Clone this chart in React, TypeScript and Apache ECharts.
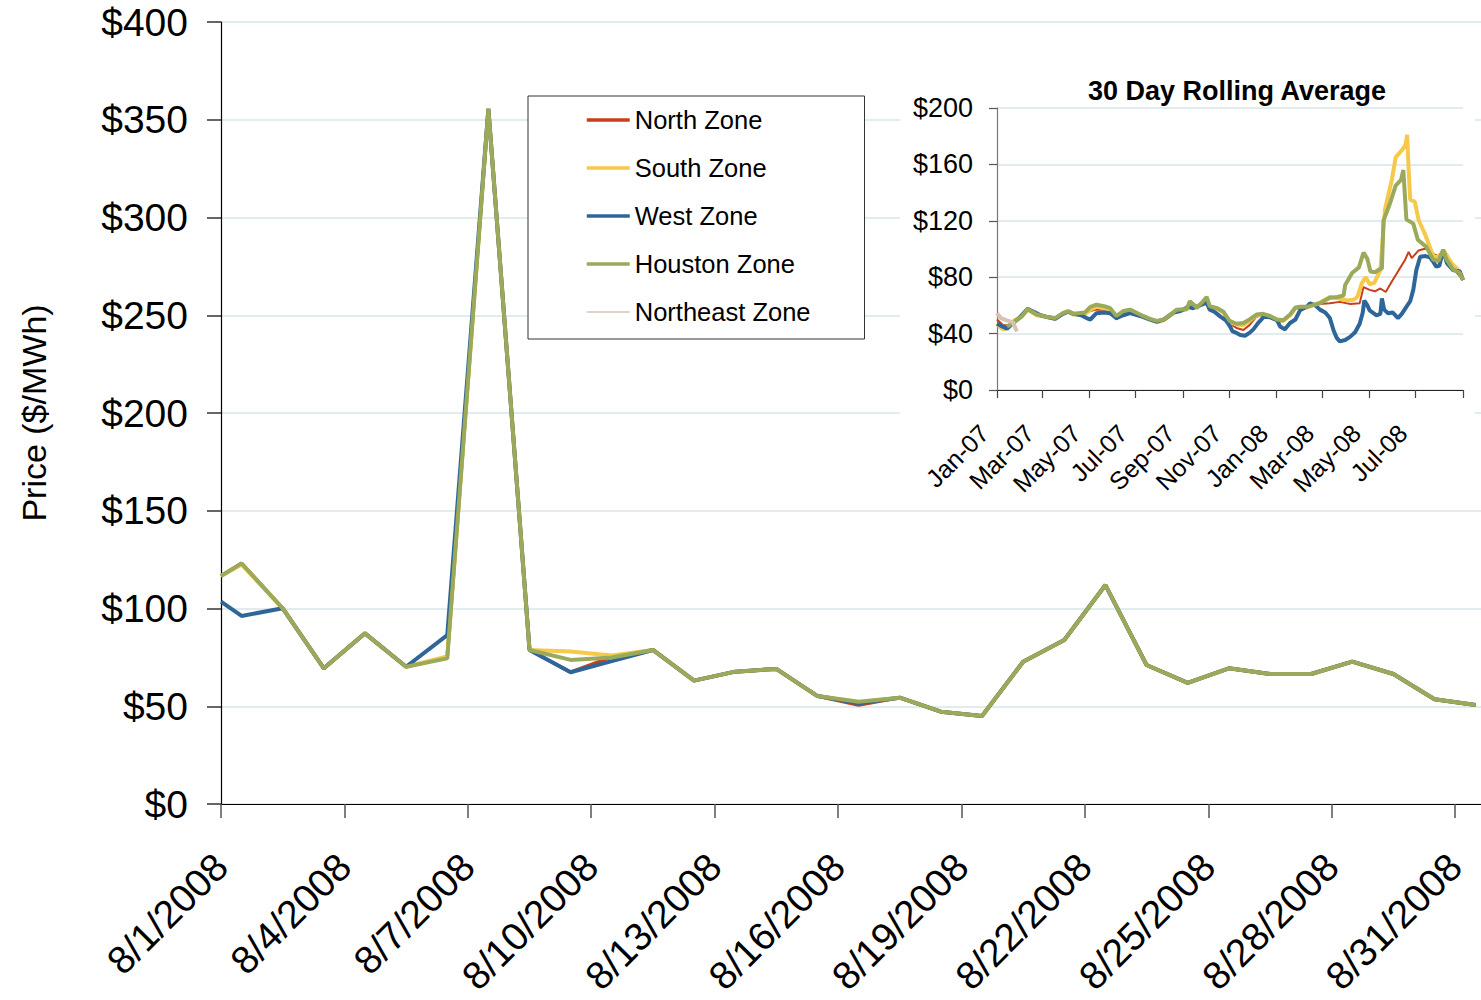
import React, { useEffect, useRef } from 'react';
import * as echarts from 'echarts';

const FONT = '"Liberation Sans", Arial, Helvetica, sans-serif';

// ---------- main chart (August 2008 daily prices) ----------
const mainX = [0, 0.5, 1.5, 2.5, 3.5, 4.5, 5.5, 6.5, 7.5, 8.5, 9.5, 10.5, 11.5, 12.5, 13.5, 14.5, 15.5, 16.5, 17.5, 18.5, 19.5, 20.5, 21.5, 22.5, 23.5, 24.5, 25.5, 26.5, 27.5, 28.5, 29.5, 30.5];
const northMain = [116.6, 123.1, 100.1, 69.4, 87.3, 70.2, 75.0, 355.5, 78.8, 67.4, 75.3, 78.8, 63.1, 67.7, 69.1, 55.2, 50.6, 54.4, 47.2, 45.0, 72.8, 83.9, 112.0, 71.1, 62.0, 69.4, 66.5, 66.5, 72.8, 66.5, 53.6, 50.6];
const southMain = [116.6, 122.5, 100.1, 69.4, 87.3, 70.2, 75.5, 355.5, 78.8, 78.0, 76.0, 78.8, 63.1, 67.7, 69.1, 55.2, 52.0, 54.4, 47.2, 45.0, 72.8, 83.9, 112.0, 71.1, 62.0, 69.4, 66.5, 66.5, 72.8, 66.5, 53.6, 50.6];
const westMain = [103.5, 96.2, 100.1, 69.4, 87.3, 70.2, 86.4, 355.5, 78.8, 67.4, 73.1, 78.8, 63.1, 67.7, 69.1, 55.2, 51.5, 54.4, 47.2, 45.0, 72.8, 83.9, 112.0, 71.1, 62.0, 69.4, 66.5, 66.5, 72.8, 66.5, 53.6, 50.6];
const houstonMain = [116.6, 123.1, 100.1, 69.4, 87.3, 70.2, 74.5, 355.5, 78.8, 73.7, 74.9, 78.8, 63.1, 67.7, 69.1, 55.2, 52.3, 54.4, 47.2, 45.0, 72.8, 83.9, 112.0, 71.1, 62.0, 69.4, 66.5, 66.5, 72.8, 66.5, 53.6, 50.6];
const northeastMain: number[] = [];

const mainTickDays = [0, 3, 6, 9, 12, 15, 18, 21, 24, 27, 30];
const mainTickLabels = ['8/1/2008', '8/4/2008', '8/7/2008', '8/10/2008', '8/13/2008', '8/16/2008', '8/19/2008', '8/22/2008', '8/25/2008', '8/28/2008', '8/31/2008'];

// ---------- inset (30 day rolling average), x = days since 1 Jan 2007 ----------
const insetTickDays = [0, 59, 120, 181, 243, 304, 365, 425, 486, 547, 609];
const insetTickLabels = ['Jan-07', 'Mar-07', 'May-07', 'Jul-07', 'Sep-07', 'Nov-07', 'Jan-08', 'Mar-08', 'May-08', 'Jul-08'];

const northInset = [[0, 50], [8, 46], [15, 46], [23, 49.5], [32, 52], [40, 57.5], [52, 53], [64, 52], [76, 50.5], [86, 54], [93, 55.5], [100, 53.5], [115, 54], [122, 56], [130, 57], [140, 57], [148, 55.5], [156, 50], [165, 54], [174, 55.5], [187, 53], [200, 50], [209, 48.5], [218, 49.5], [228, 53.5], [235, 56.5], [248, 57], [252, 62], [261, 58], [268, 61], [274, 64.5], [278, 59], [288, 57], [296, 54.5], [304, 47], [313, 44], [322, 42.5], [330, 46], [339, 52], [348, 53], [357, 51.5], [366, 49], [374, 48.5], [383, 53], [390, 58], [396, 58.5], [405, 58.5], [412, 60], [422, 61], [435, 61.5], [448, 62.5], [462, 61], [474, 61.5], [479, 73], [487, 71], [494, 70], [501, 72], [508, 69.5], [516, 77], [525, 85], [533, 92], [538, 98], [542, 93.5], [551, 99], [558, 100], [564, 100], [572, 96], [579, 95], [585, 98], [598, 85], [609, 78]];
const southInset = [[0, 47], [5, 44], [9, 43], [15, 45], [23, 49.5], [32, 52], [40, 57], [52, 53], [64, 52], [76, 50.5], [86, 54], [93, 55.5], [100, 53.5], [115, 54], [122, 57], [130, 59], [140, 58], [148, 56.5], [156, 51.5], [165, 55], [174, 56], [187, 53], [200, 50], [209, 48], [218, 49.5], [228, 53.5], [235, 56.5], [248, 57], [252, 62], [261, 58], [268, 61.5], [274, 65], [278, 59], [288, 57.5], [296, 55], [304, 48], [313, 46.5], [322, 46], [330, 49], [339, 53], [348, 53.5], [357, 52], [366, 49.5], [374, 49], [383, 53], [390, 58], [396, 58.5], [405, 58.5], [412, 60], [422, 62], [435, 66], [445, 65], [458, 63.5], [466, 64], [471, 66], [477, 76], [482, 80], [487, 75], [493, 76], [501, 85], [507, 128], [516, 149], [521, 165], [529, 170], [534, 174], [536, 181], [538, 156], [540, 135], [546, 133.5], [551, 120.5], [559, 111], [568, 98], [572, 93.5], [585, 98], [594, 90], [603, 85], [609, 78]];
const westInset = [[0, 47], [7, 45], [13, 43.5], [20, 47], [28, 50.5], [40, 57.5], [50, 55], [57, 53], [64, 52], [76, 50.5], [86, 54], [93, 55.5], [100, 54], [110, 53], [117, 51], [122, 50], [130, 54.5], [140, 55], [148, 54.5], [156, 51], [165, 53], [174, 54.5], [187, 52.5], [200, 50], [209, 48.5], [218, 50], [231, 55], [240, 56], [250, 59], [256, 58], [265, 60], [274, 62], [278, 57], [284, 55.5], [292, 52], [299, 49.5], [304, 45.5], [308, 41.5], [313, 40.5], [318, 39], [324, 38.5], [330, 40.5], [335, 43], [342, 48], [349, 52], [357, 51.5], [366, 49.5], [370, 45], [376, 43], [383, 47.5], [390, 50], [396, 56.5], [405, 59], [409, 61.5], [416, 60], [422, 57], [429, 55], [435, 51], [440, 42], [444, 37], [448, 34.5], [455, 35.5], [461, 37.5], [468, 41], [474, 47], [478, 55], [480, 63.5], [484, 60], [487, 56.5], [496, 53], [501, 54], [503, 65], [506, 57], [511, 54.5], [517, 55], [524, 51], [529, 54], [535, 59], [540, 63], [544, 71], [548, 85], [553, 94.5], [560, 95], [566, 94], [570, 91], [574, 87.5], [578, 88], [583, 99], [588, 90], [596, 85], [605, 84], [609, 78]];
const houstonInset = [[13, 45], [20, 47], [28, 50.5], [32, 52], [40, 57.5], [52, 53.5], [64, 52], [76, 51], [86, 54.5], [93, 56], [100, 54], [115, 55], [122, 59], [130, 60.5], [140, 59.5], [148, 58], [156, 52.5], [165, 56], [174, 57], [187, 53.5], [200, 50.5], [209, 49], [218, 50], [228, 54], [235, 57], [248, 57.5], [252, 63], [261, 58.5], [268, 62], [274, 66], [278, 59.5], [288, 58], [296, 55.5], [304, 49], [313, 47], [322, 47.5], [330, 50], [339, 53.5], [348, 54], [357, 52.5], [366, 50], [374, 49.5], [383, 53.5], [390, 58.5], [396, 59], [405, 59], [412, 60], [422, 61.5], [435, 65.5], [445, 66], [453, 67], [455, 74.5], [464, 83], [473, 87], [479, 97.5], [484, 93], [488, 84], [494, 83.5], [501, 86], [503, 86], [505, 120], [514, 133], [521, 145], [528, 149], [531, 156], [535, 121], [544, 118], [550, 106.5], [561, 101.5], [570, 92.5], [577, 91.5], [583, 99.5], [587, 93], [596, 85.5], [605, 83], [609, 78]];
const northeastInset = [[0, 54.5], [5, 51], [12, 49.5], [18, 48.5], [21, 48], [24, 44], [26, 41.5]];

const seriesNames = ['North Zone', 'South Zone', 'West Zone', 'Houston Zone', 'Northeast Zone'];
const seriesColors = ['#C8401A', '#F6C94A', '#2E6699', '#9AAA5A', '#D6C3B2'];

export default function App() {
  const ref = useRef<HTMLDivElement>(null);
  useEffect(() => {
    if (!ref.current) return;
    const chart = echarts.init(ref.current, null, { renderer: 'svg' });
    const mainData = [northMain, southMain, westMain, houstonMain, northeastMain];
    const insetData = [northInset, southInset, westInset, houstonInset, northeastInset];
    const mainWidths = [3.5, 4, 4, 4, 1.5];
    const insetWidths = [2, 4, 4, 4, 4];
    const legendWidths = [3.5, 3.5, 3.5, 3.5, 1.5];

    const mainSeries = seriesNames.map((name, i) => ({
      name,
      type: 'line',
      xAxisIndex: 0,
      yAxisIndex: 0,
      z: 3,
      symbol: 'none',
      color: seriesColors[i],
      lineStyle: { width: mainWidths[i], color: seriesColors[i] },
      data: mainData[i].map((v, k) => [mainX[k], v]),
    }));
    const insetSeries = seriesNames.map((name, i) => ({
      name,
      type: 'line',
      xAxisIndex: 1,
      yAxisIndex: 1,
      z: 3,
      symbol: 'none',
      color: seriesColors[i],
      lineStyle: { width: insetWidths[i], color: seriesColors[i] },
      data: insetData[i],
    }));

    chart.setOption({
      animation: false,
      backgroundColor: '#ffffff',
      textStyle: { fontFamily: FONT },
      title: {
        text: '30 Day Rolling Average',
        left: 1237,
        top: 77,
        textAlign: 'center',
        padding: 0,
        textStyle: { fontFamily: FONT, fontSize: 27, fontWeight: 'bold', color: '#000' },
      },
      legend: {
        data: seriesNames.map((name, i) => ({
          name,
          lineStyle: { width: legendWidths[i], color: seriesColors[i] },
        })),
        orient: 'vertical',
        left: 528,
        top: 96,
        padding: [11, 54, 14, 57],
        itemWidth: 43,
        itemHeight: 25,
        itemGap: 22,
        backgroundColor: '#ffffff',
        borderColor: '#333333',
        borderWidth: 1,
        z: 6,
        itemStyle: { opacity: 0 },
        textStyle: { fontFamily: FONT, fontSize: 25.5, color: '#000' },
      },
      graphic: {
        elements: [
          {
            type: 'rect',
            z: 1,
            shape: { x: 900, y: 58, width: 575, height: 442 },
            style: { fill: '#ffffff' },
          },
        ],
      },
      grid: [
        { left: 221, top: 22, width: 1260, height: 782 },
        { left: 997, top: 108, width: 466, height: 282 },
      ],
      xAxis: [
        {
          type: 'value',
          gridIndex: 0,
          min: 0,
          max: 30.63,
          z: 0,
          axisLine: { show: true, lineStyle: { color: '#000', width: 1.2 } },
          axisTick: { show: true, customValues: mainTickDays, length: 14, inside: false, lineStyle: { color: '#555', width: 1.5 } },
          axisLabel: {
            customValues: mainTickDays,
            rotate: 45,
            margin: 56,
            fontSize: 39,
            fontFamily: FONT,
            color: '#000',
            formatter: (v: number) => {
              const i = mainTickDays.indexOf(v);
              return i >= 0 ? mainTickLabels[i] : '';
            },
          },
          splitLine: { show: false },
        },
        {
          type: 'value',
          gridIndex: 1,
          min: 0,
          max: 609,
          z: 2,
          axisLine: { show: true, lineStyle: { color: '#222', width: 1.2 } },
          axisTick: { show: true, customValues: insetTickDays, length: 8, lineStyle: { color: '#444', width: 1.2 } },
          axisLabel: {
            customValues: insetTickDays.slice(0, 10),
            rotate: 45,
            margin: 26,
            padding: [0, 18, 0, 0],
            fontSize: 25,
            fontFamily: FONT,
            color: '#000',
            formatter: (v: number) => {
              const i = insetTickDays.indexOf(v);
              return i >= 0 && i < insetTickLabels.length ? insetTickLabels[i] : '';
            },
          },
          splitLine: { show: false },
        },
      ],
      yAxis: [
        {
          type: 'value',
          gridIndex: 0,
          min: 0,
          max: 400,
          interval: 50,
          z: 0,
          name: 'Price ($/MWh)',
          nameLocation: 'middle',
          nameGap: 170,
          nameTextStyle: { fontFamily: FONT, fontSize: 34, color: '#000' },
          axisLine: { show: true, lineStyle: { color: '#000', width: 1.2 } },
          axisTick: { show: true, length: 14, lineStyle: { color: '#333', width: 1.5 } },
          axisLabel: {
            margin: 33,
            fontSize: 39,
            fontFamily: FONT,
            color: '#000',
            formatter: (v: number) => '$' + v,
          },
          splitLine: { show: true, lineStyle: { color: '#D8E6EA', width: 1.5 } },
        },
        {
          type: 'value',
          gridIndex: 1,
          min: 0,
          max: 200,
          interval: 40,
          z: 2,
          axisLine: { show: true, lineStyle: { color: '#777', width: 1.2 } },
          axisTick: { show: true, length: 8, lineStyle: { color: '#555', width: 1.2 } },
          axisLabel: {
            margin: 24,
            fontSize: 27,
            fontFamily: FONT,
            color: '#000',
            formatter: (v: number) => '$' + v,
          },
          splitLine: { show: true, lineStyle: { color: '#D8E6EA', width: 1.5 } },
        },
      ],
      series: [...mainSeries, ...insetSeries],
    });
    return () => chart.dispose();
  }, []);
  return (
    <div
      ref={ref}
      style={{ position: 'absolute', left: 0, top: 0, width: 1481, height: 1000, background: '#fff' }}
    />
  );
}
